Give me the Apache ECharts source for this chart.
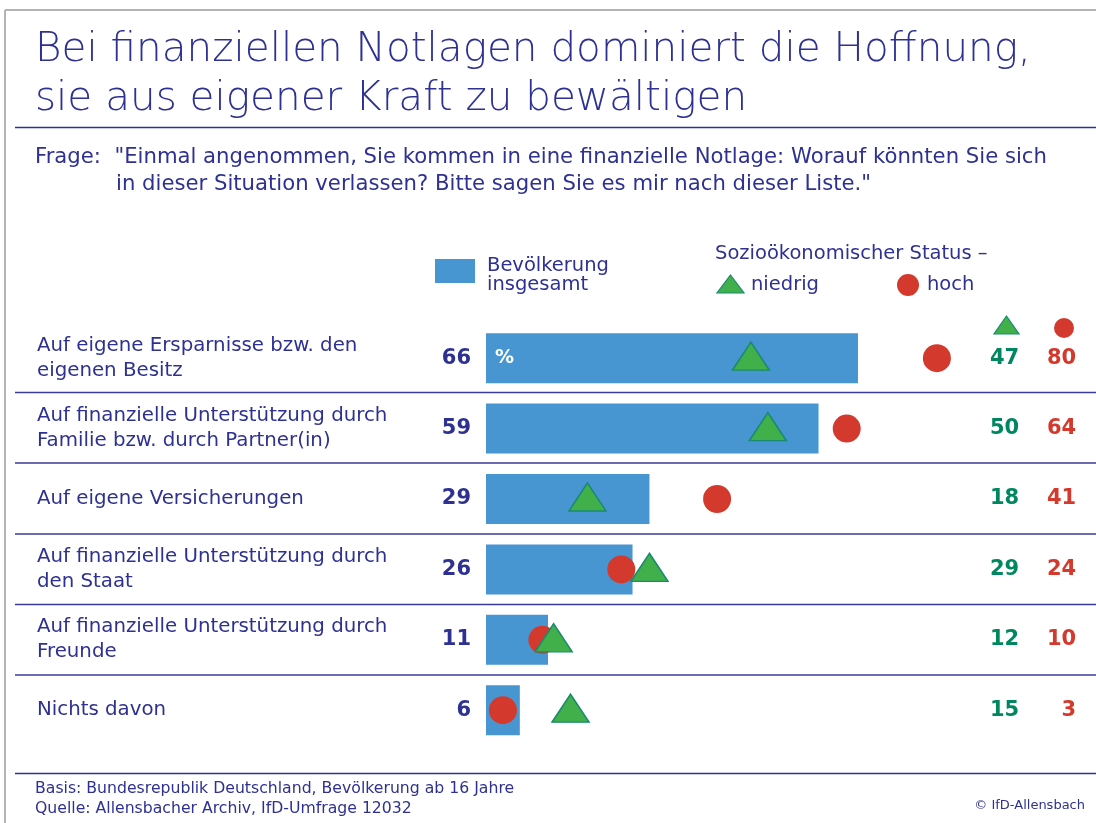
<!DOCTYPE html>
<html lang="de">
<head>
  <meta charset="UTF-8">
  <title>Finanzielle Notlagen</title>
  <script src="https://cdn.jsdelivr.net/npm/echarts@6/dist/echarts.min.js"></script>
  <style>
    html, body { margin: 0; padding: 0; background: #fff; }
    #chart { width: 1096px; height: 823px; }
  </style>
</head>
<body>
<div id="chart"></div>
<script>
  // Daten
  var kategorien = [
    'Auf eigene Ersparnisse bzw. den\neigenen Besitz',
    'Auf finanzielle Unterstützung durch\nFamilie bzw. durch Partner(in)',
    'Auf eigene Versicherungen',
    'Auf finanzielle Unterstützung durch\nden Staat',
    'Auf finanzielle Unterstützung durch\nFreunde',
    'Nichts davon'
  ];
  var gesamt = [66, 59, 29, 26, 11, 6];
  var niedrig = [47, 50, 18, 29, 12, 15];
  var hoch = [80, 64, 41, 24, 10, 3];

  var blau = '#2e3192';
  var balken = '#4796d1';
  var gruen = '#41b04a';
  var gruenText = '#00875f';
  var rot = '#d3392c';
  var font = 'DejaVu Sans';

  // feste Spalten für die Zahlen rechts (in Achsenwerten)
  var spalteNiedrig = 94.6;
  var spalteHoch = 104.7;

  var chart = echarts.init(document.getElementById('chart'));

  function punkte(werte) {
    return werte.map(function (v, i) { return [v, i]; });
  }
  function spalte(x, werte) {
    return werte.map(function (v, i) { return { value: [x, i], txt: v }; });
  }

  function hLinie(x1, y, x2, farbe, w) {
    return { type: 'line', silent: true, shape: { x1: x1, y1: y, x2: x2, y2: y },
      style: { stroke: farbe, lineWidth: w } };
  }
  function text(x, y, t, size, farbe, extra) {
    var st = { text: t, x: x, y: y, fill: farbe, font: size + 'px "' + font + '"', verticalAlign: 'middle' };
    for (var k in extra) st[k] = extra[k];
    return { type: 'text', silent: true, style: st };
  }

  var trennlinien = [392.5, 463, 534, 604.5, 675];
  var graphics = [
    // Rahmen
    hLinie(5, 10, 1096, '#b4b4b4', 2),
    { type: 'line', silent: true, shape: { x1: 5, y1: 10, x2: 5, y2: 823 }, style: { stroke: '#b4b4b4', lineWidth: 2 } },
    hLinie(15, 127.5, 1096, blau, 1.5),
    hLinie(15, 773.5, 1096, blau, 1.5),
    // Frage
    text(35, 157, 'Frage:  "Einmal angenommen, Sie kommen in eine finanzielle Notlage: Worauf könnten Sie sich', 21.2, blau),
    text(116, 184, 'in dieser Situation verlassen? Bitte sagen Sie es mir nach dieser Liste."', 21.2, blau),
    // Legende
    { type: 'rect', silent: true, shape: { x: 435, y: 259, width: 40, height: 24 }, style: { fill: balken } },
    text(487, 266, 'Bevölkerung', 19.5, blau),
    text(487, 285, 'insgesamt', 19.5, blau),
    text(715, 254, 'Sozioökonomischer Status –', 19.5, blau),
    { type: 'polygon', silent: true, shape: { points: [[730.5, 275], [744, 293], [717, 293]] },
      style: { fill: gruen, stroke: '#1a8a70', lineWidth: 1.2 } },
    text(751, 285, 'niedrig', 19.5, blau),
    { type: 'circle', silent: true, shape: { cx: 908, cy: 285, r: 11 }, style: { fill: rot } },
    text(927, 285, 'hoch', 19.5, blau),
    // Spaltenköpfe
    { type: 'polygon', silent: true, shape: { points: [[1006.5, 316], [1019, 334], [994, 334]] },
      style: { fill: gruen, stroke: '#1a8a70', lineWidth: 1.2 } },
    { type: 'circle', silent: true, shape: { cx: 1064, cy: 328, r: 10 }, style: { fill: rot } },
    // Fußzeile
    text(35, 789, 'Basis: Bundesrepublik Deutschland, Bevölkerung ab 16 Jahre', 15.7, blau),
    text(35, 809, 'Quelle: Allensbacher Archiv, IfD-Umfrage 12032', 15.7, blau),
    text(1085, 806, '© IfD-Allensbach', 13, blau, { align: 'right' })
  ];
  trennlinien.forEach(function (y) { graphics.push(hLinie(15, y, 1096, '#3b3b9c', 1.5)); });

  var option = {
    animation: false,
    title: {
      text: 'Bei finanziellen Notlagen dominiert die Hoffnung,\nsie aus eigener Kraft zu bewältigen',
      left: 30,
      top: 21,
      textStyle: { color: blau, fontFamily: font, fontSize: 40.5, fontWeight: 200, lineHeight: 49 }
    },
    grid: { left: 486, top: 323, width: 608.7, height: 422.4 },
    xAxis: { type: 'value', min: 0, max: 108, show: false },
    yAxis: {
      type: 'category',
      inverse: true,
      data: kategorien,
      axisLine: { show: false },
      axisTick: { show: false },
      splitLine: { show: false },
      axisLabel: {
        align: 'left',
        margin: 449,
        color: blau,
        fontFamily: font,
        fontSize: 19.8,
        lineHeight: 25
      }
    },
    series: [
      {
        name: 'Bevölkerung insgesamt',
        type: 'bar',
        data: gesamt,
        barWidth: 50,
        itemStyle: { color: balken },
        label: {
          show: true, position: 'left', distance: 15,
          color: blau, fontFamily: font, fontWeight: 'bold', fontSize: 21
        },
        z: 2
      },
      {
        // "%" im ersten Balken
        type: 'bar',
        data: gesamt,
        barWidth: 50,
        barGap: '-100%',
        silent: true,
        itemStyle: { color: 'rgba(0,0,0,0)' },
        label: {
          show: true, position: 'insideLeft', distance: 9,
          color: '#fff', fontFamily: font, fontWeight: 'bold', fontSize: 19,
          formatter: function (p) { return p.dataIndex === 0 ? '%' : ''; }
        },
        z: 3
      },
      {
        name: 'hoch',
        type: 'scatter',
        data: punkte(hoch),
        symbol: 'circle',
        symbolSize: [28, 28],
        itemStyle: { color: rot, opacity: 1 },
        z: 4
      },
      {
        name: 'niedrig',
        type: 'scatter',
        data: punkte(niedrig),
        symbol: 'triangle',
        symbolSize: [37, 28],
        symbolOffset: [0, -2],
        itemStyle: { color: gruen, borderColor: '#1a8a70', borderWidth: 1.5, opacity: 1 },
        z: 5
      },
      {
        type: 'scatter',
        data: spalte(spalteNiedrig, niedrig),
        symbolSize: 0,
        silent: true,
        itemStyle: { opacity: 1 },
        label: {
          show: true, position: 'left', distance: 0,
          color: gruenText, fontFamily: font, fontWeight: 'bold', fontSize: 21,
          formatter: function (p) { return p.data.txt; }
        }
      },
      {
        type: 'scatter',
        data: spalte(spalteHoch, hoch),
        symbolSize: 0,
        silent: true,
        itemStyle: { opacity: 1 },
        label: {
          show: true, position: 'left', distance: 0,
          color: rot, fontFamily: font, fontWeight: 'bold', fontSize: 21,
          formatter: function (p) { return p.data.txt; }
        }
      }
    ],
    graphic: graphics
  };

  chart.setOption(option);
</script>
</body>
</html>
